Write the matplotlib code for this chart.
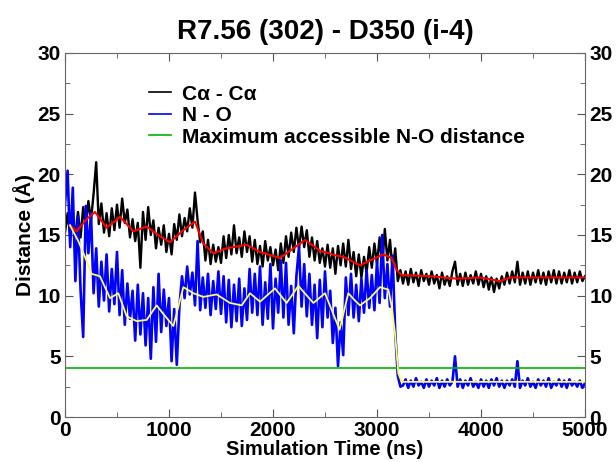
import numpy as np
import matplotlib
matplotlib.use("Agg")
import matplotlib.pyplot as plt
from matplotlib.ticker import MultipleLocator

plt.rcParams["font.family"] = ["Liberation Sans", "DejaVu Sans"]
plt.rcParams["font.weight"] = "bold"

# raw traces, one value every 25 ns from 0 to 5000 ns
STEP = 25
ca_ca = [
    15.2, 16.8, 14.9, 16.1, 15.0, 16.9, 14.8, 17.3, 15.6, 17.8,
    16.2, 18.4, 21.0, 15.9, 17.6, 15.2, 16.8, 14.9, 17.2, 15.4,
    17.5, 15.6, 18.0, 16.0, 17.1, 14.8, 16.3, 14.5, 16.0, 12.3,
    16.9, 14.6, 17.3, 15.0, 16.2, 13.9, 15.6, 14.2, 15.8, 13.6,
    15.1, 13.4, 15.9, 14.6, 16.7, 14.9, 16.4, 15.3, 17.2, 15.6,
    18.5, 16.2, 14.4, 15.3, 12.9, 14.6, 12.6, 14.2, 12.8, 14.0,
    12.7, 14.9, 13.1, 15.0, 13.4, 15.8, 13.5, 14.8, 13.2, 15.3,
    13.6, 14.9, 12.8, 14.6, 12.6, 14.1, 12.4, 14.5, 12.9, 14.0,
    12.5, 13.8, 12.1, 14.3, 12.7, 14.9, 13.2, 15.2, 13.6, 15.6,
    13.9, 15.7, 14.0, 15.4, 13.2, 14.8, 12.9, 14.5, 12.7, 13.9,
    12.4, 14.2, 12.3, 13.9, 11.8, 14.1, 12.5, 14.3, 12.4, 14.6,
    12.2, 13.6, 11.6, 13.4, 11.5, 13.2, 11.9, 14.0, 12.3, 14.3,
    12.6, 14.8, 12.4, 15.5, 12.9, 14.6, 12.0, 13.9, 11.2, 12.1,
    11.0, 12.0, 10.9, 12.2, 11.1, 11.9, 10.8, 12.1, 11.2, 11.8,
    10.9, 12.0, 11.0, 11.7, 10.6, 11.9, 10.9, 11.6, 10.8, 12.0,
    12.8, 10.9, 11.8, 10.8, 11.9, 10.9, 11.7, 11.0, 12.0, 10.9,
    11.8, 10.7, 11.6, 10.5, 11.5, 10.3, 11.4, 10.6, 11.6, 10.9,
    11.9, 11.0, 12.0, 11.1, 12.8, 10.9, 11.9, 11.0, 12.0, 10.9,
    11.9, 11.1, 12.1, 11.0, 11.9, 10.9, 12.0, 11.1, 12.1, 11.0,
    12.0, 11.0, 11.9, 11.1, 12.1, 11.0, 11.9, 11.1, 12.0, 11.2,
    11.6,
]
n_o = [
    17.5, 20.3, 14.0, 18.9, 11.2, 16.5, 10.4, 6.6, 17.4, 13.5,
    16.8, 10.2, 13.9, 9.1, 12.8, 9.6, 13.4, 8.7, 12.2, 9.3,
    13.6, 8.4, 12.1, 7.6, 11.0, 8.1, 10.4, 6.3, 10.9, 6.8,
    10.2, 5.9, 9.8, 4.8, 10.7, 6.2, 11.8, 7.0, 10.5, 7.5,
    9.8, 4.6, 8.9, 4.3, 9.1, 11.6, 9.8, 12.4, 10.1, 11.9,
    9.2, 14.5, 8.8, 11.5, 9.0, 11.8, 8.4, 11.2, 8.9, 12.0,
    8.5, 11.6, 7.8, 11.3, 7.4, 10.9, 7.9, 11.4, 7.5, 10.6,
    8.0, 12.2, 8.6, 11.8, 8.4, 12.4, 7.6, 11.1, 8.1, 12.6,
    7.3, 11.4, 8.6, 12.9, 8.2, 12.7, 7.6, 10.8, 6.9, 11.6,
    14.0, 9.1, 12.6, 8.3, 11.8, 7.6, 10.9, 6.5, 11.3, 7.4,
    12.0, 8.2, 10.4, 6.1, 9.0, 4.2, 7.8, 5.1, 11.5, 8.4,
    11.8, 8.2, 10.9, 7.9, 11.4, 8.6, 12.1, 9.0, 11.7, 8.8,
    12.8, 9.4, 15.0, 9.8, 12.6, 9.1, 13.3, 7.0, 3.4, 2.5,
    2.6, 3.1, 2.4, 3.0, 2.5, 3.2, 2.6, 2.9, 2.4, 3.1,
    2.5, 3.0, 2.6, 3.2, 2.4, 3.0, 2.5, 3.1, 2.6, 2.9,
    5.0, 2.5, 3.1, 2.4, 3.0, 2.6, 3.2, 2.5, 2.9, 2.4,
    3.1, 2.5, 3.0, 2.4, 3.1, 2.6, 3.2, 2.5, 3.0, 2.4,
    3.0, 2.6, 3.1, 2.5, 4.6, 2.4, 3.0, 2.6, 3.2, 2.5,
    2.9, 2.4, 3.1, 2.6, 3.0, 2.5, 3.2, 2.4, 2.9, 2.6,
    3.1, 2.5, 3.0, 2.4, 3.1, 2.6, 2.9, 2.5, 3.0, 2.4,
    2.8,
]

# running averages (read at turning points)
ca_avg_t = [48, 112, 208, 288, 400, 529, 657, 785, 913, 1010, 1138, 1250, 1330,
            1426, 1554, 1747, 1875, 2067, 2196, 2308, 2452, 2612, 2676, 2837,
            2933, 3061, 3141, 3189, 3237, 3510, 3766, 3990, 4183, 4279, 4631, 5000]
ca_avg = [15.8, 15.3, 16.3, 16.9, 15.6, 16.5, 15.3, 15.7, 14.9, 14.4, 15.4, 16.1, 14.3,
          13.5, 13.9, 14.2, 13.6, 13.1, 13.9, 14.6, 13.7, 13.3, 13.2, 12.5,
          12.9, 13.4, 13.1, 12.1, 11.7, 11.6, 11.4, 11.5, 11.2, 11.5, 11.5, 11.5]
no_avg_t = [48, 128, 192, 256, 336, 433, 513, 593, 689, 785, 881, 945, 1042, 1138,
            1234, 1330, 1458, 1586, 1699, 1779, 1875, 2019, 2131, 2244, 2388, 2500,
            2640, 2724, 2788, 2837, 2933, 3029, 3109, 3141, 3173, 3205, 3237, 5000]
no_avg = [15.8, 14.5, 13.2, 11.8, 11.6, 9.8, 10.2, 8.3, 7.9, 8.0, 9.2, 8.5, 7.5, 10.7,
          10.2, 9.9, 10.1, 9.4, 9.2, 10.2, 9.5, 10.6, 9.4, 10.8, 9.4, 10.2,
          7.2, 10.2, 9.6, 9.2, 9.8, 10.7, 10.5, 9.1, 6.9, 3.6, 2.9, 2.9]

max_no = 4.0

t = np.arange(len(ca_ca)) * STEP

fig = plt.figure(figsize=(6.16, 4.62), dpi=100)
ax = fig.add_axes([0.1055, 0.0974, 0.8442, 0.7879])

ax.plot(t, ca_ca, color="black", lw=1.7, label="Cα - Cα")
ax.plot(t, n_o, color="#0000ff", lw=1.9, label="N - O")
ax.plot([0, 5000], [max_no, max_no], color="#00b400", lw=1.2,
        label="Maximum accessible N-O distance")
ax.plot(ca_avg_t, ca_avg, color="#ff0000", lw=1.5)
ax.plot(no_avg_t, no_avg, color="#ffff50", lw=1.3)

ax.set_xlim(0, 5000)
ax.set_ylim(0, 30)
ax.xaxis.set_major_locator(MultipleLocator(1000))
ax.xaxis.set_minor_locator(MultipleLocator(500))
ax.yaxis.set_major_locator(MultipleLocator(5))
ax.yaxis.set_minor_locator(MultipleLocator(2.5))
ax.tick_params(which="both", direction="in", top=True, right=True,
               labelright=True, labelsize=15, color="#555555", pad=3)
ax.tick_params(which="major", length=6)
ax.tick_params(which="minor", length=3.5)
for s in ax.spines.values():
    s.set_color("#666666")

ax.set_title("R7.56 (302) - D350 (i-4)", fontsize=20, fontweight="bold", pad=10)
ax.set_xlabel("Simulation Time (ns)", fontsize=14.5, fontweight="bold", labelpad=0)
ax.set_ylabel("Distance (Å)", fontsize=15, fontweight="bold", labelpad=2)

legend_lines = ax.legend(loc="upper left", bbox_to_anchor=(0.146, 0.936), frameon=False,
                         fontsize=15, handlelength=1.06, handletextpad=0.53,
                         labelspacing=0.12, borderaxespad=0)
for h in legend_lines.get_lines():
    h.set_linewidth(1.2)

fig.savefig("out.png", dpi=100)
